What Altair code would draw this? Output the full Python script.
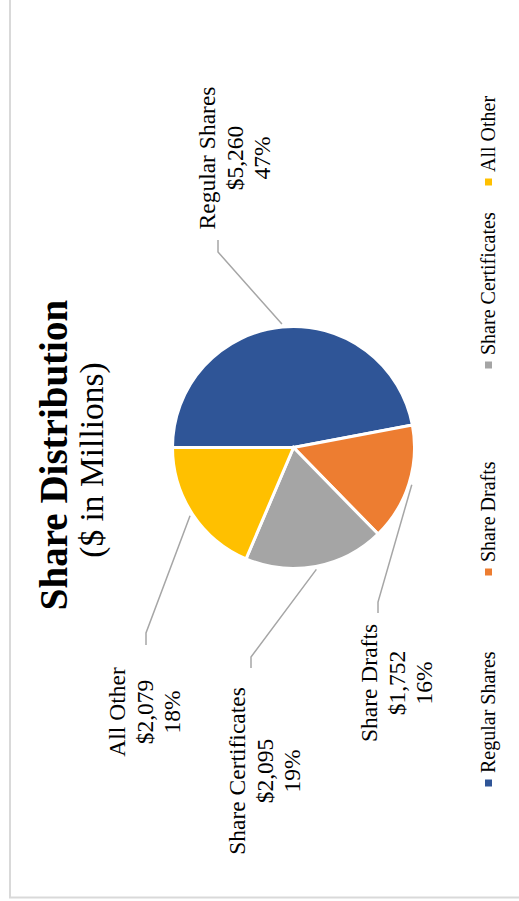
import math
import altair as alt
import pandas as pd

# ---- data ----
categories = ["Regular Shares", "Share Drafts", "Share Certificates", "All Other"]
amounts = [5260, 1752, 2095, 2079]
amount_labels = ["$5,260", "$1,752", "$2,095", "$2,079"]
pct_labels = ["47%", "16%", "19%", "18%"]
colors = ["#2F5597", "#ED7D31", "#A5A5A5", "#FFC000"]
title_text = "Share Distribution"
subtitle_text = "($ in Millions)"

# ---- layout ----
W, H = 519, 901
CX, CY, R = 293.5, 447.5, 121
START = 1.5 * math.pi  # first slice starts at 9 o'clock
FONT = "Liberation Serif"
# offsets (from pie centre) of each label's first line
label_offsets = [(-85.5, -289.5), (76.5, 235.5), (-55.5, 323.5), (-175.5, 264.5)]
leader_end_offsets = [(-75.5, -207.5), (84.5, 165.5), (-42.5, 220.5), (-147.5, 197.5)]
elbow_shift = [12, -11, -11, -12]
legend_sq_y = [783, 572, 365, 182]
legend_x = 488.5

total = sum(amounts)
rows = []
cum = 0.0
for i, (c, a) in enumerate(zip(categories, amounts)):
    frac = a / total
    mid = START + 2 * math.pi * (cum + frac / 2)
    cum += frac
    rows.append({"idx": i, "category": c, "amount": a, "mid": mid})
pie_df = pd.DataFrame(rows)

lab_rows, lead_rows, leg_rows = [], [], []
for i, c in enumerate(categories):
    lx, ly = label_offsets[i]
    lab_rows.append({"category": c, "x": CX + lx, "y": CY + ly,
                     "label": f"{c}\n{amount_labels[i]}\n{pct_labels[i]}"})
    m = rows[i]["mid"]
    rr = R + 3
    sx, sy = CX + rr * math.sin(m), CY - rr * math.cos(m)
    ex, ey = CX + leader_end_offsets[i][0], CY + leader_end_offsets[i][1]
    lead_rows += [
        {"category": c, "pt": 0, "x": sx, "y": sy},
        {"category": c, "pt": 1, "x": ex, "y": ey + elbow_shift[i]},
        {"category": c, "pt": 2, "x": ex, "y": ey},
    ]
    leg_rows.append({"category": c, "sx": legend_x, "sy": legend_sq_y[i],
                     "ty": legend_sq_y[i] - 10})
lab_df = pd.DataFrame(lab_rows)
lead_df = pd.DataFrame(lead_rows)
leg_df = pd.DataFrame(leg_rows)

color_scale = alt.Scale(domain=categories, range=colors)

border = alt.Chart(pd.DataFrame({"a": [0]})).mark_rect(
    fill="white", stroke="#D9D9D9", strokeWidth=2
).encode(x=alt.value(10), x2=alt.value(540), y=alt.value(-20), y2=alt.value(897.5))

pie = alt.Chart(pie_df).mark_arc(radius=R, stroke="white", strokeWidth=3).encode(
    theta=alt.Theta("amount:Q", stack=True,
                    scale=alt.Scale(range=[START, START + 2 * math.pi])),
    color=alt.Color("category:N", scale=color_scale, legend=None),
    order=alt.Order("idx:Q"),
    x=alt.value(CX), y=alt.value(CY),
)

leaders = alt.Chart(lead_df).mark_line(color="#A6A6A6", strokeWidth=1.5).encode(
    x=alt.X("x:Q", scale=None), y=alt.Y("y:Q", scale=None),
    detail="category:N", order="pt:Q",
)

labels = alt.Chart(lab_df).mark_text(
    angle=270, lineBreak="\n", font=FONT, fontSize=23.5, lineHeight=27.5,
    align="center", baseline="middle", color="#000000",
).encode(x=alt.X("x:Q", scale=None), y=alt.Y("y:Q", scale=None), text="label:N")

title = alt.Chart(pd.DataFrame({"t": [title_text]})).mark_text(
    angle=270, font=FONT, fontSize=39, fontWeight="bold", align="center",
    baseline="middle", color="#000000",
).encode(x=alt.value(55), y=alt.value(455), text="t:N")

subtitle = alt.Chart(pd.DataFrame({"t": [subtitle_text]})).mark_text(
    angle=270, font=FONT, fontSize=33.5, align="center",
    baseline="middle", color="#000000",
).encode(x=alt.value(93), y=alt.value(460), text="t:N")

leg_sq = alt.Chart(leg_df).mark_square(size=49, opacity=1).encode(
    x=alt.X("sx:Q", scale=None), y=alt.Y("sy:Q", scale=None),
    color=alt.Color("category:N", scale=color_scale, legend=None),
)
leg_txt = alt.Chart(leg_df).mark_text(
    angle=270, font=FONT, fontSize=20, align="left", baseline="middle",
    color="#000000",
).encode(x=alt.X("sx:Q", scale=None), y=alt.Y("ty:Q", scale=None), text="category:N")

chart = alt.layer(border, pie, leaders, labels, title, subtitle, leg_sq, leg_txt).properties(
    width=W, height=H, padding=0, autosize="none", background="white"
).configure_view(strokeWidth=0)

chart.save("out.html", embed_options={"renderer": "svg", "actions": False})
